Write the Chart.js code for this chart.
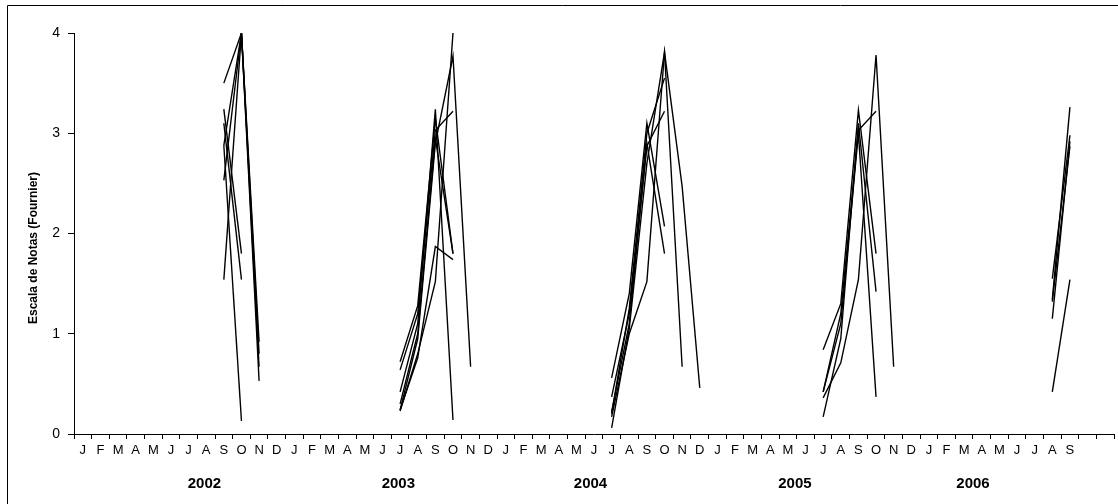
<!DOCTYPE html>
<html>
<head>
<meta charset="utf-8">
<script src="https://cdn.jsdelivr.net/npm/chart.js@4"></script>
<style>
body{margin:0;background:#fff;}
#wrap{width:1118px;height:504px;}
</style>
</head>
<body>
<div id="wrap"><canvas id="grafico" width="1118" height="504"></canvas></div>
<script>
// Categorias (mes a mes, ene 2002 - nov 2006)
const meses = [
'2002-01','2002-02','2002-03','2002-04','2002-05','2002-06','2002-07','2002-08','2002-09','2002-10','2002-11','2002-12',
'2003-01','2003-02','2003-03','2003-04','2003-05','2003-06','2003-07','2003-08','2003-09','2003-10','2003-11','2003-12',
'2004-01','2004-02','2004-03','2004-04','2004-05','2004-06','2004-07','2004-08','2004-09','2004-10','2004-11','2004-12',
'2005-01','2005-02','2005-03','2005-04','2005-05','2005-06','2005-07','2005-08','2005-09','2005-10','2005-11','2005-12',
'2006-01','2006-02','2006-03','2006-04','2006-05','2006-06','2006-07','2006-08','2006-09','2006-10','2006-11'
];
const etiquetas = [
'J','F','M','A','M','J','J','A','S','O','N','D',
'J','F','M','A','M','J','J','A','S','O','N','D',
'J','F','M','A','M','J','J','A','S','O','N','D',
'J','F','M','A','M','J','J','A','S','O','N','D',
'J','F','M','A','M','J','J','A','S','',''
];
const años = ['2002','2003','2004','2005','2006'];

// Series por temporada (escala de Fournier)
const meses2002 = ['2002-09','2002-10','2002-11'];
const notas2002 = [
[3.50, 4.00, 0.92],
[2.53, 4.00, 0.80],
[1.54, 4.00, 0.67],
[2.88, 4.00, 0.53],
[3.24, 1.80, null],
[3.10, 1.54, null],
[2.88, 0.13, null]
];
const meses2003 = ['2003-07','2003-08','2003-09','2003-10','2003-11'];
const notas2003 = [
[0.24, 0.76, 1.87, 1.74, null],
[0.23, 0.80, 1.52, 4.00, null],
[0.42, 1.10, 3.24, 0.14, null],
[0.64, 1.20, 3.03, 3.22, null],
[0.72, 1.28, 3.15, 1.80, null],
[0.30, 1.00, 2.95, 1.80, null],
[0.24, 0.95, 2.90, 3.77, 0.67]
];
const meses2004 = ['2004-07','2004-08','2004-09','2004-10','2004-11','2004-12'];
const notas2004 = [
[0.56, 1.40, 3.10, 2.07, null, null],
[0.37, 1.20, 2.87, 3.22, null, null],
[0.22, 1.10, 2.90, 1.80, null, null],
[0.17, 1.00, 1.52, 3.81, 2.47, 0.46],
[0.06, 1.05, 2.70, 3.81, 0.67, null],
[0.20, 1.25, 3.00, 3.55, null, null]
];
const meses2005 = ['2005-07','2005-08','2005-09','2005-10','2005-11'];
const notas2005 = [
[0.84, 1.30, 3.23, 1.80, null],
[0.42, 1.20, 3.03, 3.22, null],
[0.36, 0.71, 1.54, 3.78, 0.67],
[0.17, 0.95, 3.10, 1.42, null],
[0.42, 1.10, 3.00, 0.37, null]
];
const meses2006 = ['2006-08','2006-09'];
const notas2006 = [
[1.55, 2.98],
[1.34, 3.26],
[1.32, 2.87],
[1.15, 2.92],
[0.42, 1.54]
];

const temporadas = [
[meses2002, notas2002],
[meses2003, notas2003],
[meses2004, notas2004],
[meses2005, notas2005],
[meses2006, notas2006]
];

// Construir datasets
let datasets = [];
temporadas.forEach(t => {
let m = t[0];
t[1].forEach(fila => {
let data = meses.map(c => {
let k = m.indexOf(c);
return k >= 0 ? fila[k] : null;
});
datasets.push({data: data, borderColor:'#000', borderWidth:1.4, pointRadius:0, tension:0, fill:false});
});
});

const fuente = '"Liberation Sans", Arial, sans-serif';

// Marco, titulo del eje y años
const extras = {
id:'extras',
beforeDraw(chart){
const ctx = chart.ctx;
ctx.save();
ctx.fillStyle = '#fff';
ctx.fillRect(0,0,chart.width,chart.height);
ctx.strokeStyle = '#000';
ctx.lineWidth = 1;
ctx.beginPath();
ctx.moveTo(7.5, chart.height);
ctx.lineTo(7.5, 5.5);
ctx.lineTo(chart.width, 5.5);
ctx.stroke();
ctx.restore();
},
afterDraw(chart, args, opts){
const ctx = chart.ctx;
const x = chart.scales.x;
const paso = x.getPixelForValue(1) - x.getPixelForValue(0);
ctx.save();
ctx.fillStyle = '#000';
ctx.textAlign = 'center';
ctx.textBaseline = 'middle';
ctx.font = 'bold 15px ' + fuente;
años.forEach((a,i) => {
ctx.fillText(a, x.getPixelForValue(0) + opts.posAños[i]*paso, opts.yAños);
});
ctx.translate(opts.xTitulo, opts.yTitulo);
ctx.rotate(-Math.PI/2);
ctx.font = 'bold 12px ' + fuente;
ctx.fillText('Escala de Notas (Fournier)', 0, 0);
ctx.restore();
}
};

new Chart(document.getElementById('grafico'), {
type:'line',
data:{labels: meses, datasets: datasets},
options:{
responsive:false,
animation:false,
devicePixelRatio:1,
layout:{padding:{left:0, top:33, right:4, bottom:0}},
plugins:{
legend:{display:false},
tooltip:{enabled:false},
extras:{posAños:[6.9, 17.9, 28.8, 40.4, 50.5], yAños:484, xTitulo:34, yTitulo:248}
},
scales:{
x:{
type:'category',
offset:true,
grid:{offset:true, drawOnChartArea:false, tickLength:5, color:'#000', lineWidth:1},
border:{display:true, color:'#000', width:1},
ticks:{autoSkip:false, maxRotation:0, minRotation:0, padding:4, color:'#000',
font:{family:fuente, size:13},
callback:(v,i) => etiquetas[i]},
afterFit: s => { s.height = 70; }
},
y:{
min:0, max:4,
grid:{drawOnChartArea:false, tickLength:6, color:'#000', lineWidth:1},
border:{display:true, color:'#000', width:1},
ticks:{stepSize:1, padding:8, color:'#000', font:{family:fuente, size:14}},
afterFit: s => { s.width = 74; }
}
}
},
plugins:[extras]
});
</script>
</body>
</html>
